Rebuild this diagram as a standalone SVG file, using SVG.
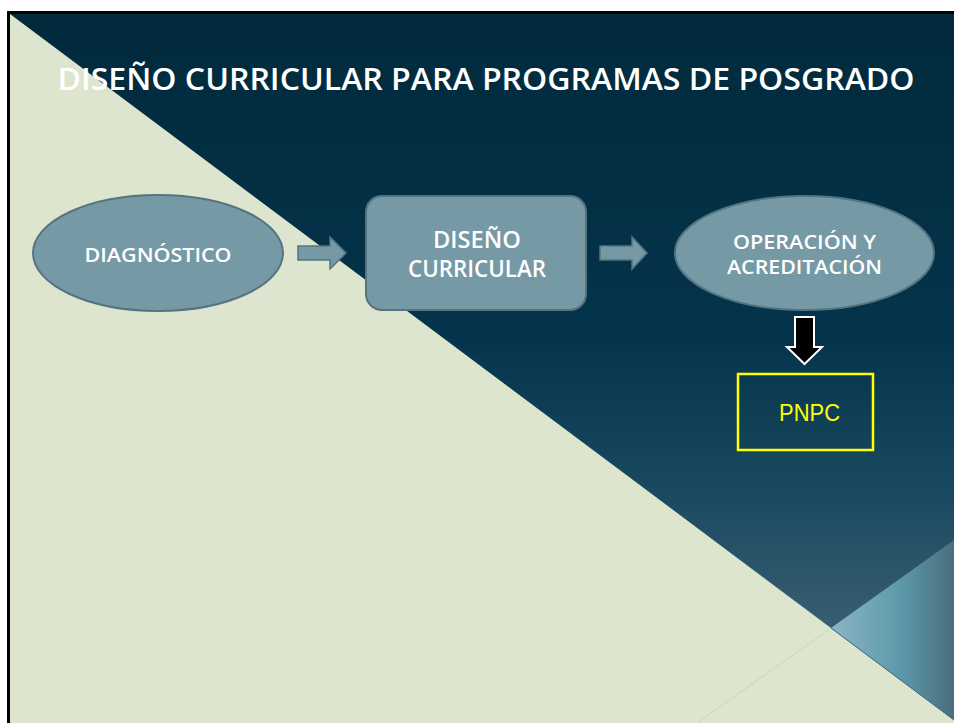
<svg xmlns="http://www.w3.org/2000/svg" width="954" height="723" viewBox="0 0 954 723">
  <defs>
    <linearGradient id="bgDark" x1="0" y1="14" x2="0" y2="723" gradientUnits="userSpaceOnUse">
      <stop offset="0" stop-color="#012a3c"/>
      <stop offset="0.45" stop-color="#04344b"/>
      <stop offset="0.68" stop-color="#1a4a60"/>
      <stop offset="0.88" stop-color="#3b5f73"/>
      <stop offset="1" stop-color="#4a6e80"/>
    </linearGradient>
    <linearGradient id="corner" x1="831" y1="0" x2="954" y2="0" gradientUnits="userSpaceOnUse">
      <stop offset="0" stop-color="#8ab6c6"/>
      <stop offset="0.55" stop-color="#5e9aab"/>
      <stop offset="1" stop-color="#4a6e7d"/>
    </linearGradient>
    <style>
      .node { fill: #7599a5; stroke: #56747f; stroke-width: 2; }
      .conn { fill: #7599a5; stroke: #56747f; stroke-width: 1.5; }
      .label { font-family: "Open Sans", "Liberation Sans", sans-serif; font-weight: 600; fill: #ffffff; text-anchor: middle; }
    </style>
  </defs>

  <!-- background -->
  <rect x="0" y="0" width="954" height="723" fill="#ffffff"/>
  <rect x="10" y="14" width="944" height="709" fill="url(#bgDark)"/>
  <polygon points="10,14 954,720 954,723 10,723" fill="#dee5cf"/>
  <polygon points="831,628 954,540 954,720" fill="url(#corner)"/>
  <line x1="831" y1="628" x2="954" y2="720" stroke="#3f6b80" stroke-width="1"/>
  <line x1="831" y1="628" x2="697" y2="723" stroke="#ccd5c0" stroke-width="1"/>
  <!-- frame -->
  <rect x="7" y="11" width="947" height="3" fill="#000000"/>
  <rect x="7" y="11" width="3" height="712" fill="#000000"/>

  <!-- title -->
  <text x="486" y="90" font-family="'Open Sans', 'Liberation Sans', sans-serif" font-weight="600" font-size="31" fill="#ffffff" text-anchor="middle" textLength="857" lengthAdjust="spacingAndGlyphs">DISEÑO CURRICULAR PARA PROGRAMAS DE POSGRADO</text>

  <g id="connectors">
    <polygon class="conn" points="298,246 330,246 330,237 346,253 330,269 330,260 298,260"/>
    <polygon class="conn" points="600,246 632,246 632,237 647,253 632,269 632,260 600,260"/>
    <polygon points="795,317 814,317 814,347 822,347 804.5,364 787,347 795,347" fill="#000000" stroke="#ffffff" stroke-width="2"/>
  </g>

  <g id="diagnostico">
    <ellipse class="node" cx="158" cy="253" rx="125" ry="58"/>
    <text class="label" x="158" y="262" font-size="20" textLength="147" lengthAdjust="spacingAndGlyphs">DIAGNÓSTICO</text>
  </g>

  <g id="diseno-curricular">
    <rect class="node" x="366" y="196" width="220" height="114" rx="16" ry="16"/>
    <text class="label" x="477" y="248" font-size="23" textLength="88" lengthAdjust="spacingAndGlyphs">DISEÑO</text>
    <text class="label" x="477" y="277" font-size="23" textLength="138" lengthAdjust="spacingAndGlyphs">CURRICULAR</text>
  </g>

  <g id="operacion-acreditacion">
    <ellipse class="node" cx="804.5" cy="253" rx="129.5" ry="57"/>
    <text class="label" x="804.5" y="249" font-size="20" textLength="143" lengthAdjust="spacingAndGlyphs">OPERACIÓN Y</text>
    <text class="label" x="804.5" y="274" font-size="20" textLength="155" lengthAdjust="spacingAndGlyphs">ACREDITACIÓN</text>
  </g>

  <g id="pnpc">
    <rect x="738" y="374" width="135" height="76" fill="none" stroke="#ffff00" stroke-width="2.5"/>
    <text x="809.5" y="421" font-family="'Liberation Sans', Arial, sans-serif" font-size="23" fill="#ffff00" text-anchor="middle" textLength="61" lengthAdjust="spacingAndGlyphs">PNPC</text>
  </g>
</svg>
